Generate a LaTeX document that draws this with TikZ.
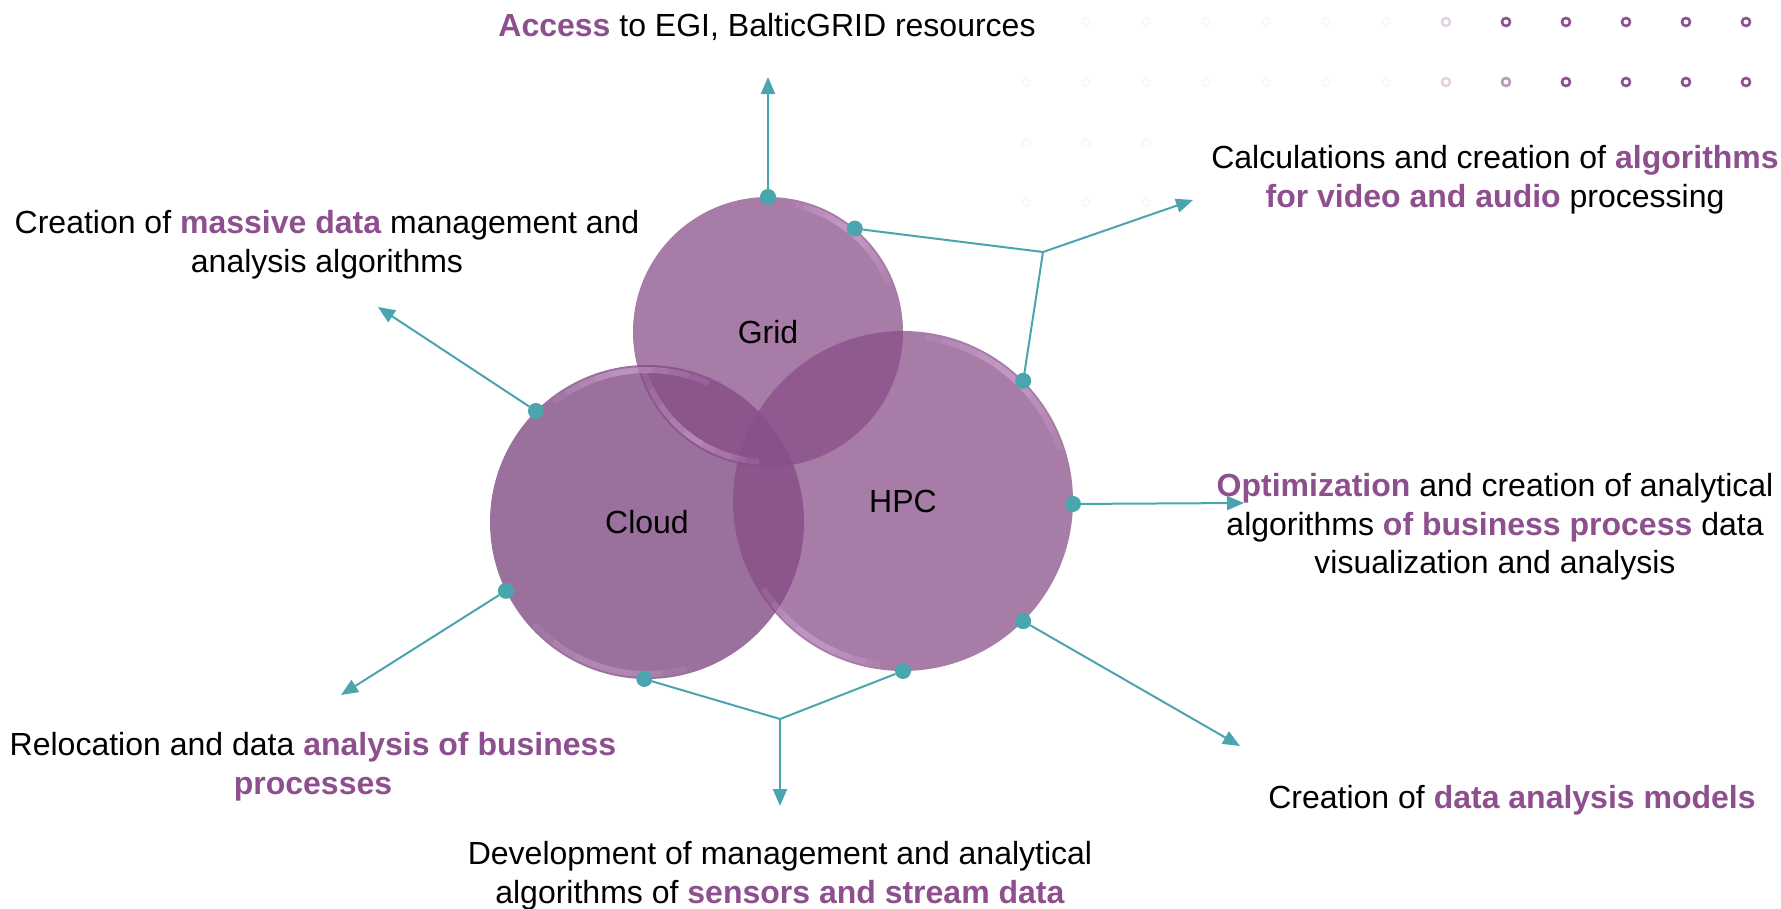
\documentclass[tikz,border=0pt]{standalone}
\usepackage{fontspec}
\setmainfont{Liberation Sans}
\usetikzlibrary{arrows.meta}
\definecolor{tealc}{HTML}{4AA5AE}
\definecolor{purp}{HTML}{8E4F8F}
\definecolor{circA}{HTML}{884E88}
\definecolor{circB}{HTML}{773F79}
\definecolor{rim}{HTML}{E2B8E6}
\definecolor{dotA}{HTML}{8E4F8F}
\definecolor{dotB}{HTML}{BE98BE}
\definecolor{dotC}{HTML}{E2D2E2}
\definecolor{dotF}{HTML}{FAF8FA}
\newcommand\hlt[1]{\textcolor{purp}{\textbf{#1}}}
\begin{document}
\begin{tikzpicture}[x=1pt,y=-1pt,
  venn/.style={circle, inner sep=0pt, outer sep=0pt, fill opacity=0.74, text opacity=1, font=\fontsize{32}{38}\selectfont},
  dot/.style={circle, fill=tealc, inner sep=0pt, outer sep=0pt, minimum size=16pt},
  conn/.style={draw=tealc, line width=2pt},
  arr/.style={conn, -{Triangle[length=17pt,width=14pt]}},
  lbl/.style={align=center, inner sep=0pt, font=\fontsize{32}{38.6}\selectfont},
  ring/.style={draw=#1, line width=2.6pt, fill=none},
  rimarc/.style={draw=rim, line width=6pt, draw opacity=0.12}]
\useasboundingbox (0,0) rectangle (1781,908);

% decorative dot grid
\foreach \x in {1086,1146,1206,1266,1326,1386} \draw[ring=dotF] (\x,22) circle (4);
\foreach \x in {1026,1086,1146,1206,1266,1326,1386} \draw[ring=dotF] (\x,82) circle (4);
\foreach \y in {143,202} \foreach \x in {1026,1086,1146} \draw[ring=dotF] (\x,\y) circle (4);
\draw[ring=dotC] (1446,22) circle (4);
\draw[ring=dotC] (1446,82) circle (4);
\draw[ring=dotA] (1506,22) circle (4);
\draw[ring=dotB] (1506,82) circle (4);
\foreach \x in {1566,1626,1686,1746} {\draw[ring=dotA] (\x,22) circle (4); \draw[ring=dotA] (\x,82) circle (4);}

% circles
\node[venn, fill=circB, minimum size=314pt] (cloud) at (647,522) {};
\node[venn, fill=circA, minimum size=340pt] (hpc) at (903,501) {};
\node[venn, fill=circA, minimum size=270pt] (grid) at (768,332) {};
\node[font=\fontsize{32}{38}\selectfont] at (cloud.center) {Cloud};
\node[font=\fontsize{32}{38}\selectfont] at (hpc.center) {HPC};
\node[font=\fontsize{32}{38}\selectfont] at (grid.center) {Grid};

% rim highlights
\begin{scope}[y=1pt, shift={(grid.center)}]
  \foreach \a/\b in {22/78,28/74,34/70,40/64,45/58} \draw[rimarc] (\a:130) arc (\a:\b:130);
  \foreach \a/\b in {198/266,206/260,214/254,222/246,230/240} \draw[rimarc] (\a:130) arc (\a:\b:130);
\end{scope}
\begin{scope}[y=1pt, shift={(hpc.center)}]
  \foreach \a/\b in {18/82,25/76,32/70,39/63,45/56} \draw[rimarc] (\a:165) arc (\a:\b:165);
  \foreach \a/\b in {212/262,218/257,224/252,230/246} \draw[rimarc] (\a:165) arc (\a:\b:165);
\end{scope}
\begin{scope}[y=1pt, shift={(cloud.center)}]
  \foreach \a/\b in {66/128,74/122,82/116,88/110,94/104} \draw[rimarc] (\a:152) arc (\a:\b:152);
  \foreach \a/\b in {222/285,232/276,242/268} \draw[rimarc] (\a:152) arc (\a:\b:152);
\end{scope}

% connection points
\node[dot] (gT) at (grid.90) {};
\node[dot] (gR) at (grid.50) {};
\node[dot] (hTR) at (hpc.45) {};
\node[dot] (hR) at (hpc.-1) {};
\node[dot] (hBR) at (hpc.-45) {};
\node[dot] (hB) at (hpc.-90) {};
\node[dot] (cTL) at (cloud.135) {};
\node[dot] (cBL) at (cloud.206) {};
\node[dot] (cB) at (cloud.-91) {};

\coordinate (j1) at (1043,252);
\coordinate (j2) at (780,719);
\coordinate (tTop) at (768,77);
\coordinate (tTR) at (1193,200);
\coordinate (tTL) at (378,307);
\coordinate (tR) at (1244,503);
\coordinate (tBR) at (1240,746);
\coordinate (tBL) at (341,695);
\coordinate (tB) at (780,806);

% connectors
\draw[arr] (gT) -- (tTop);
\draw[conn] (gR) -- (j1);
\draw[conn] (hTR) -- (j1);
\draw[arr] (j1) -- (tTR);
\draw[arr] (cTL) -- (tTL);
\draw[arr] (hR) -- (tR);
\draw[arr] (hBR) -- (tBR);
\draw[arr] (cBL) -- (tBL);
\draw[conn] (cB) -- (j2);
\draw[conn] (hB) -- (j2);
\draw[arr] (j2) -- (tB);

% labels
\node[lbl] (lTop) at (767,27) {\hlt{Access} to EGI, BalticGRID resources};
\node[lbl] (lTR) at (1495,180) {Calculations and creation of \hlt{algorithms}\\\hlt{for video and audio} processing};
\node[lbl] (lTL) at (327,245) {Creation of \hlt{massive data} management and\\analysis algorithms};
\node[lbl] (lR) at (1495,527) {\hlt{Optimization} and creation of analytical\\algorithms \hlt{of business process} data\\visualization and analysis};
\node[lbl] (lBL) at (313,767) {Relocation and data \hlt{analysis of business}\\\hlt{processes}};
\node[lbl] (lBR) at (1512,800) {Creation of \hlt{data analysis models}};
\node[lbl] (lB) at (780,876) {Development of management and analytical\\algorithms of \hlt{sensors and stream data}};
\end{tikzpicture}
\end{document}
